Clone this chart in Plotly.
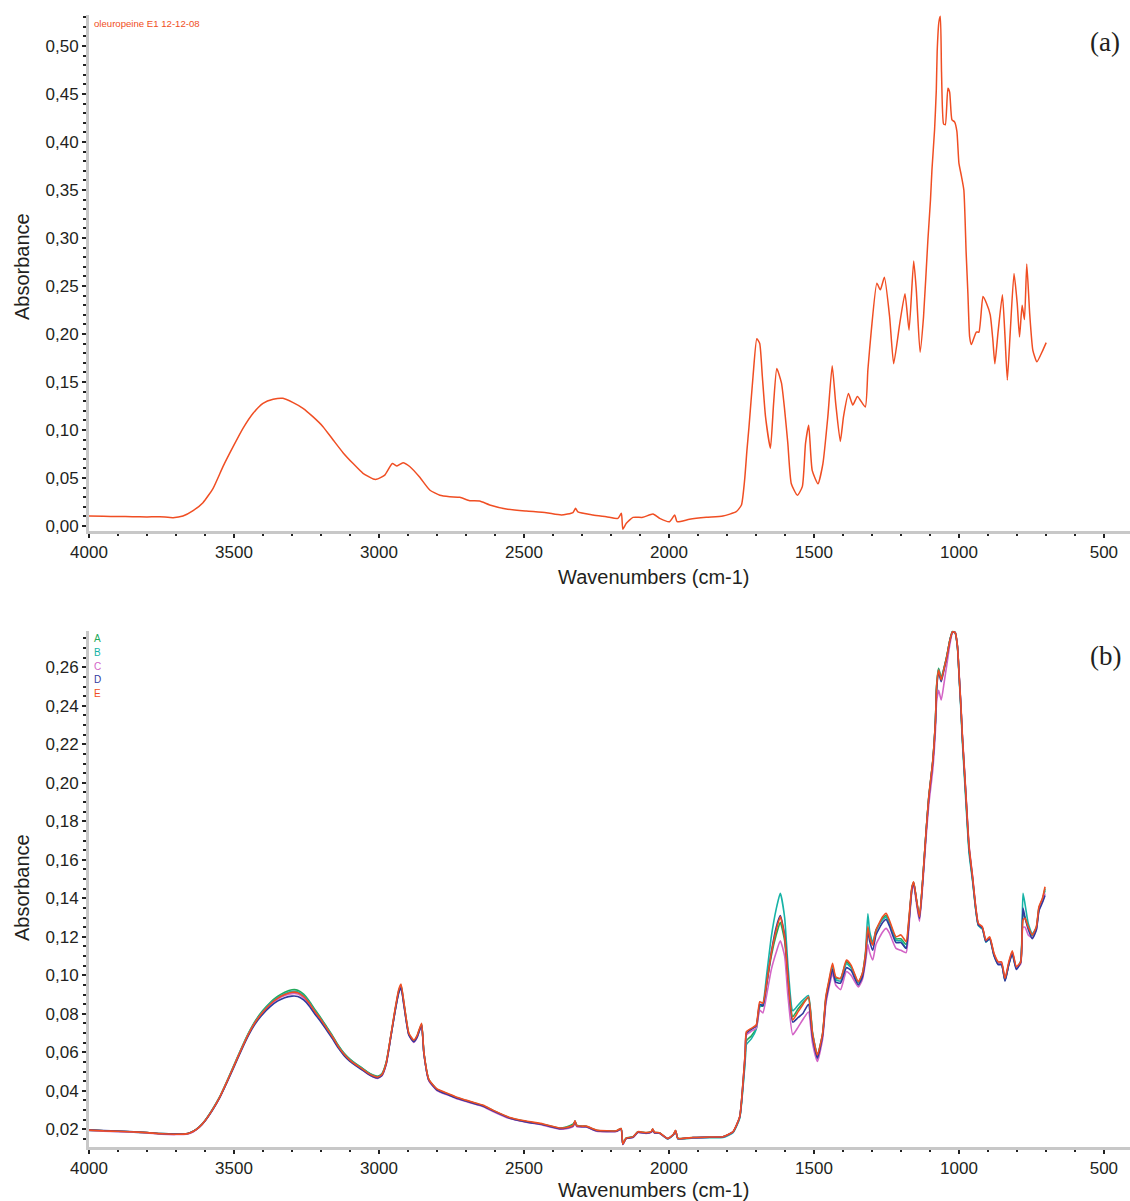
import plotly.graph_objects as go

# ---------------- Panel (a): oleuropeine E1 spectrum ----------------
WN_A = [4000, 3950, 3900, 3850, 3800, 3756, 3710, 3676, 3641, 3607,
        3572, 3538, 3503, 3469, 3434, 3400, 3365, 3331, 3296, 3262,
        3228, 3193, 3158, 3124, 3090, 3055, 3020, 3009, 2980, 2954,
        2938, 2917, 2894, 2860, 2825, 2790, 2756, 2721, 2687, 2653,
        2618, 2561, 2492, 2423, 2371, 2331, 2322, 2314, 2262, 2216,
        2176, 2164, 2159, 2147, 2124, 2090, 2055, 2032, 1998, 1980,
        1972, 1929, 1871, 1814, 1768, 1750, 1739, 1731, 1724, 1710,
        1697, 1687, 1678, 1667, 1650, 1639, 1628, 1612, 1601, 1590,
        1578, 1557, 1540, 1529, 1518, 1506, 1486, 1469, 1452, 1437,
        1425, 1409, 1398, 1381, 1366, 1350, 1323, 1314, 1302, 1283,
        1271, 1257, 1239, 1225, 1204, 1186, 1172, 1156, 1147, 1134,
        1122, 1107, 1098, 1093, 1084, 1078, 1075, 1069, 1064, 1060,
        1053, 1047, 1038, 1032, 1024, 1015, 1007, 1000, 991, 983,
        975, 969, 963, 957, 940, 931, 917, 905, 892, 883,
        876, 865, 850, 841, 833, 823, 810, 799, 791, 782,
        774, 766, 756, 745, 731, 713, 699]
ABS_A = [.0104, .0101, .0099, .0097, .0095, .0097, .0087, .0104, .0160, .0243,
         .0392, .0618, .0826, .1017, .1174, .1278, .1320, .1330, .1285, .1226,
         .1139, .1035, .0896, .0764, .0653, .0549, .0490, .0486, .0530, .0650,
         .0625, .0660, .0620, .0510, .0375, .0320, .0305, .0299, .0264, .0260,
         .0219, .0177, .0156, .0139, .0115, .0140, .0184, .0146, .0115, .0097,
         .0080, .0132, -.0034, .0028, .0090, .0090, .0125, .0080, .0045, .0115,
         .0045, .0070, .0090, .0104, .0149, .0219, .0480, .0790, .1030, .1560,
         .1950, .1900, .1560, .1140, .0810, .1280, .1640, .1490, .1210, .0860,
         .0440, .0320, .0410, .0860, .1050, .0580, .0440, .0650, .1140, .1670,
         .1280, .0880, .1140, .1380, .1260, .1350, .1240, .1625, .2040, .2530,
         .2460, .2590, .2180, .1690, .2110, .2420, .2040, .2760, .2460, .1810,
         .2180, .2980, .3400, .3710, .4125, .4540, .4940, .5250, .5310, .4730,
         .4190, .4180, .4560, .4520, .4230, .4210, .4110, .3780, .3640, .3500,
         .2840, .2420, .1970, .1890, .2020, .2020, .2390, .2320, .2200, .1940,
         .1690, .2020, .2410, .1970, .1520, .2020, .2630, .2320, .1970, .2300,
         .2150, .2730, .2215, .1830, .1710, .1815, .1910]

# ---------------- Panel (b): samples A-E ----------------
WN_B = [4000, 3950, 3900, 3860, 3800, 3750, 3700, 3660, 3640, 3620,
        3600, 3575, 3550, 3525, 3500, 3475, 3450, 3425, 3400, 3375,
        3350, 3325, 3300, 3280, 3260, 3240, 3220, 3200, 3180, 3160,
        3140, 3120, 3100, 3080, 3060, 3040, 3020, 3005, 2990, 2975,
        2960, 2945, 2932, 2924, 2914, 2897, 2880, 2868, 2862, 2853,
        2845, 2828, 2800, 2760, 2736, 2700, 2667, 2640, 2607, 2549,
        2492, 2434, 2377, 2354, 2330, 2324, 2318, 2300, 2285, 2250,
        2181, 2165, 2159, 2148, 2124, 2107, 2079, 2060, 2056, 2050,
        2033, 2004, 1984, 1977, 1969, 1917, 1860, 1814, 1779, 1756,
        1745, 1737, 1733, 1716, 1699, 1687, 1676, 1664, 1647, 1630,
        1616, 1601, 1590, 1573, 1555, 1539, 1519, 1505, 1488, 1470,
        1459, 1448, 1436, 1425, 1408, 1388, 1372, 1347, 1333, 1322,
        1314, 1308, 1297, 1286, 1263, 1251, 1240, 1217, 1200, 1182,
        1173, 1162, 1156, 1146, 1136, 1125, 1113, 1104, 1090, 1081,
        1077, 1070, 1061, 1051, 1042, 1031, 1022, 1013, 1005, 999,
        993, 988, 982, 976, 965, 953, 942, 933, 919, 907,
        894, 879, 864, 853, 841, 828, 816, 802, 787, 779,
        772, 761, 747, 733, 724, 712, 703]

SER_A = [.0196, .0193, .0190, .0188, .0183, .0178, .0176, .0178, .0191, .0213,
         .0246, .0302, .0367, .0448, .0534, .0620, .0700, .0767, .0818, .0859,
         .0890, .0912, .0925, .0923, .0902, .0866, .0820, .0778, .0732, .0686,
         .0636, .0595, .0565, .0541, .0521, .0499, .0482, .0476, .0489, .0549,
         .0677, .0815, .0918, .0948, .0855, .0696, .0660, .0686, .0712, .0746,
         .0597, .0458, .0408, .0383, .0367, .0350, .0335, .0323, .0298, .0260,
         .0241, .0227, .0206, .0212, .0228, .0238, .0222, .0216, .0216, .0195,
         .0192, .0204, .0126, .0155, .0162, .0187, .0182, .0189, .0201, .0184,
         .0182, .0152, .0174, .0193, .0154, .0158, .0160, .0162, .0186, .0262,
         .0420, .0570, .0660, .0685, .0725, .0840, .0840, .0945, .1100, .1210,
         .1275, .1180, .0990, .0785, .0825, .0855, .0882, .0698, .0582, .0695,
         .0880, .0968, .1050, .0985, .0984, .1070, .1045, .0962, .1005, .1108,
         .1240, .1195, .1160, .1230, .1295, .1310, .1278, .1190, .1190, .1160,
         .1275, .1455, .1483, .1388, .1300, .1490, .1750, .1925, .2115, .2322,
         .2505, .2595, .2545, .2600, .2658, .2745, .2787, .2782, .2710, .2548,
         .2390, .2232, .2080, .1925, .1655, .1500, .1345, .1262, .1245, .1178,
         .1195, .1108, .1062, .1062, .0975, .1060, .1120, .1038, .1065, .1320,
         .1300, .1250, .1205, .1245, .1348, .1392, .1450]

SER_B = [.0195, .0192, .0189, .0187, .0182, .0177, .0175, .0177, .0190, .0211,
         .0245, .0301, .0366, .0446, .0532, .0617, .0697, .0763, .0814, .0854,
         .0884, .0905, .0917, .0915, .0895, .0860, .0814, .0773, .0728, .0682,
         .0633, .0592, .0562, .0539, .0519, .0497, .0480, .0474, .0487, .0546,
         .0675, .0812, .0915, .0945, .0852, .0694, .0658, .0684, .0710, .0744,
         .0595, .0456, .0406, .0381, .0366, .0349, .0334, .0322, .0297, .0259,
         .0240, .0225, .0205, .0209, .0221, .0243, .0219, .0216, .0215, .0194,
         .0191, .0203, .0123, .0153, .0160, .0186, .0181, .0188, .0200, .0183,
         .0181, .0150, .0172, .0192, .0150, .0155, .0157, .0158, .0183, .0258,
         .0410, .0555, .0640, .0670, .0720, .0835, .0850, .0990, .1200, .1345,
         .1426, .1300, .1060, .0816, .0845, .0870, .0895, .0705, .0585, .0698,
         .0875, .0962, .1040, .0978, .0970, .1060, .1040, .0962, .1008, .1125,
         .1320, .1230, .1170, .1235, .1290, .1300, .1270, .1180, .1180, .1140,
         .1260, .1450, .1480, .1385, .1295, .1488, .1748, .1922, .2112, .2320,
         .2495, .2590, .2540, .2597, .2655, .2742, .2785, .2778, .2700, .2540,
         .2370, .2210, .2055, .1900, .1635, .1490, .1340, .1258, .1240, .1172,
         .1190, .1105, .1058, .1058, .0975, .1058, .1115, .1035, .1075, .1426,
         .1370, .1270, .1215, .1250, .1350, .1395, .1440]

SER_C = [.0194, .0190, .0188, .0186, .0181, .0175, .0173, .0176, .0188, .0210,
         .0244, .0299, .0364, .0444, .0529, .0614, .0694, .0759, .0808, .0847,
         .0876, .0895, .0905, .0903, .0883, .0849, .0804, .0764, .0720, .0675,
         .0626, .0586, .0556, .0533, .0513, .0490, .0472, .0465, .0478, .0538,
         .0673, .0810, .0912, .0940, .0848, .0690, .0652, .0678, .0705, .0740,
         .0592, .0452, .0402, .0377, .0362, .0345, .0330, .0318, .0293, .0256,
         .0237, .0222, .0201, .0204, .0216, .0238, .0214, .0212, .0212, .0191,
         .0189, .0201, .0121, .0151, .0158, .0184, .0179, .0186, .0198, .0181,
         .0180, .0151, .0173, .0192, .0152, .0157, .0159, .0161, .0187, .0264,
         .0430, .0585, .0690, .0710, .0725, .0820, .0805, .0890, .1030, .1120,
         .1180, .1100, .0900, .0692, .0730, .0768, .0810, .0650, .0553, .0670,
         .0850, .0935, .1010, .0950, .0926, .1020, .1000, .0940, .0978, .1070,
         .1160, .1120, .1080, .1160, .1225, .1244, .1220, .1140, .1130, .1118,
         .1240, .1440, .1470, .1370, .1280, .1465, .1720, .1885, .2070, .2270,
         .2420, .2480, .2430, .2520, .2610, .2720, .2780, .2782, .2712, .2560,
         .2405, .2250, .2100, .1950, .1675, .1515, .1355, .1265, .1248, .1178,
         .1195, .1110, .1065, .1065, .0978, .1062, .1122, .1040, .1060, .1250,
         .1250, .1210, .1195, .1238, .1340, .1385, .1425]

SER_D = [.0198, .0194, .0191, .0189, .0184, .0178, .0176, .0179, .0190, .0212,
         .0244, .0298, .0362, .0441, .0525, .0609, .0688, .0752, .0800, .0838,
         .0866, .0884, .0892, .0890, .0872, .0840, .0797, .0758, .0714, .0670,
         .0622, .0583, .0553, .0531, .0511, .0490, .0473, .0467, .0480, .0540,
         .0672, .0808, .0908, .0935, .0845, .0690, .0655, .0680, .0707, .0742,
         .0594, .0455, .0404, .0379, .0364, .0347, .0332, .0320, .0296, .0258,
         .0239, .0224, .0204, .0207, .0219, .0242, .0218, .0214, .0214, .0193,
         .0190, .0202, .0122, .0152, .0159, .0185, .0180, .0187, .0199, .0182,
         .0181, .0152, .0174, .0193, .0152, .0157, .0159, .0161, .0187, .0265,
         .0435, .0595, .0700, .0720, .0738, .0850, .0842, .0945, .1120, .1250,
         .1310, .1210, .1000, .0757, .0780, .0800, .0850, .0680, .0570, .0688,
         .0868, .0952, .1030, .0965, .0960, .1040, .1025, .0950, .0990, .1095,
         .1230, .1180, .1130, .1210, .1275, .1290, .1258, .1170, .1170, .1140,
         .1265, .1450, .1480, .1385, .1295, .1488, .1750, .1920, .2110, .2315,
         .2480, .2570, .2525, .2590, .2650, .2740, .2785, .2780, .2705, .2550,
         .2390, .2235, .2085, .1935, .1660, .1505, .1348, .1262, .1245, .1175,
         .1190, .1102, .1055, .1055, .0970, .1055, .1110, .1030, .1068, .1350,
         .1300, .1240, .1190, .1235, .1335, .1378, .1415]

SER_E = [.0196, .0192, .0190, .0188, .0183, .0177, .0175, .0178, .0190, .0212,
         .0245, .0300, .0365, .0445, .0530, .0615, .0695, .0760, .0810, .0850,
         .0880, .0900, .0912, .0910, .0890, .0855, .0810, .0770, .0725, .0680,
         .0630, .0590, .0560, .0537, .0517, .0495, .0478, .0472, .0485, .0545,
         .0680, .0820, .0925, .0955, .0860, .0700, .0664, .0690, .0716, .0751,
         .0600, .0460, .0410, .0385, .0369, .0352, .0337, .0325, .0300, .0262,
         .0243, .0228, .0207, .0210, .0222, .0245, .0220, .0217, .0217, .0196,
         .0193, .0205, .0124, .0154, .0161, .0188, .0183, .0190, .0203, .0185,
         .0183, .0153, .0175, .0195, .0153, .0158, .0160, .0162, .0188, .0266,
         .0439, .0600, .0707, .0725, .0742, .0863, .0855, .0950, .1114, .1235,
         .1304, .1200, .0993, .0768, .0810, .0846, .0889, .0700, .0586, .0700,
         .0889, .0976, .1062, .0993, .0984, .1079, .1053, .0967, .1010, .1114,
         .1252, .1200, .1157, .1235, .1304, .1322, .1287, .1200, .1210, .1175,
         .1287, .1460, .1486, .1391, .1304, .1495, .1755, .1928, .2118, .2326,
         .2500, .2586, .2534, .2595, .2655, .2742, .2785, .2780, .2707, .2551,
         .2395, .2239, .2090, .1940, .1668, .1512, .1356, .1270, .1252, .1183,
         .1200, .1114, .1070, .1070, .0984, .1070, .1128, .1045, .1070, .1287,
         .1296, .1252, .1210, .1252, .1356, .1400, .1460]

SERIES_NAMES = ["A", "B", "C", "D", "E"]
SERIES_COLORS = ["#22a95a", "#16b3a6", "#d364c6", "#2f3a9e", "#f04e23"]
SERIES_VALUES = [SER_A, SER_B, SER_C, SER_D, SER_E]

SAMPLE_LABEL = "oleuropeine E1 12-12-08"
TRACE_A_COLOR = "#f04e23"

X_TICKS = [4000, 3500, 3000, 2500, 2000, 1500, 1000, 500]

W, H = 1130, 1201
TXT = "#231f20"
FONT = "Liberation Sans, Arial, sans-serif"

fig = go.Figure()
fig.add_trace(go.Scatter(x=WN_A, y=ABS_A, mode="lines",
                         line=dict(color=TRACE_A_COLOR, width=1.5, shape="spline", smoothing=0.5),
                         xaxis="x", yaxis="y", showlegend=False))
for name, col, vals in zip(SERIES_NAMES, SERIES_COLORS, SERIES_VALUES):
    fig.add_trace(go.Scatter(x=WN_B, y=vals, mode="lines", name=name,
                             line=dict(color=col, width=1.6, shape="spline", smoothing=0.5),
                             xaxis="x2", yaxis="y2", showlegend=False))

def px_x(p):
    return p / W

def px_y(p):
    return 1 - p / H

x_dom = [px_x(89), 1.0]
axis_common = dict(showline=True, linecolor="#c8c8c8", linewidth=3,
                   showgrid=False, zeroline=False, ticks="outside",
                   ticklen=4, tickwidth=1.5, tickcolor="#222",
                   tickfont=dict(family=FONT, size=17, color=TXT),
                   mirror=False, automargin=False)
minor_x = dict(dtick=100, ticklen=2.5, tickwidth=1.5, tickcolor="#222", ticks="outside")

fig.update_layout(
    width=W, height=H, margin=dict(l=0, r=0, t=0, b=0, autoexpand=False),
    paper_bgcolor="white", plot_bgcolor="white",
    separators=",.",
    xaxis=dict(domain=x_dom, range=[4000, 410], anchor="y",
               tickvals=X_TICKS, ticktext=[str(v) for v in X_TICKS],
               minor=minor_x, **axis_common),
    yaxis=dict(domain=[px_y(530.7), px_y(15)], range=[-0.0049, 0.5323], anchor="x",
               dtick=0.05, tick0=0, tickformat=".2f",
               minor=dict(dtick=0.01, ticklen=3, tickwidth=1.5, tickcolor="#222", ticks="outside"),
               **axis_common),
    xaxis2=dict(domain=x_dom, range=[4000, 410], anchor="y2",
                tickvals=X_TICKS, ticktext=[str(v) for v in X_TICKS],
                minor=minor_x, **axis_common),
    yaxis2=dict(domain=[px_y(1146.7), px_y(630.7)], range=[0.011, 0.279], anchor="x2",
                dtick=0.02, tick0=0, tickformat=".2f",
                minor=dict(dtick=0.005, ticklen=3, tickwidth=1.5, tickcolor="#222", ticks="outside"),
                **axis_common),
)

ann = []
# axis titles
for yc in (267, 888):
    ann.append(dict(text="Absorbance", x=px_x(22), y=px_y(yc), xref="paper", yref="paper",
                    textangle=-90, showarrow=False, xanchor="center", yanchor="middle",
                    font=dict(family=FONT, size=20, color=TXT)))
for yc in (577, 1190):
    ann.append(dict(text="Wavenumbers (cm-1)", x=px_x(654), y=px_y(yc), xref="paper", yref="paper",
                    showarrow=False, xanchor="center", yanchor="middle",
                    font=dict(family=FONT, size=20, color=TXT)))
# panel letters
for lab, yc in (("(a)", 42), ("(b)", 656)):
    ann.append(dict(text=lab, x=px_x(1105), y=px_y(yc), xref="paper", yref="paper",
                    showarrow=False, xanchor="center", yanchor="middle",
                    font=dict(family="Liberation Serif, Times New Roman, serif", size=27, color=TXT)))
# sample label
ann.append(dict(text=SAMPLE_LABEL, x=px_x(92), y=px_y(24), xref="paper", yref="paper",
                showarrow=False, xanchor="left", yanchor="middle",
                font=dict(family=FONT, size=9.6, color=TRACE_A_COLOR)))
# series labels
for i, (name, col) in enumerate(zip(SERIES_NAMES, SERIES_COLORS)):
    ann.append(dict(text=name, x=px_x(92), y=px_y(639 + 13.5 * i), xref="paper", yref="paper",
                    showarrow=False, xanchor="left", yanchor="middle",
                    font=dict(family=FONT, size=10, color=col)))
fig.update_layout(annotations=ann)

fig.write_html("out.html")
